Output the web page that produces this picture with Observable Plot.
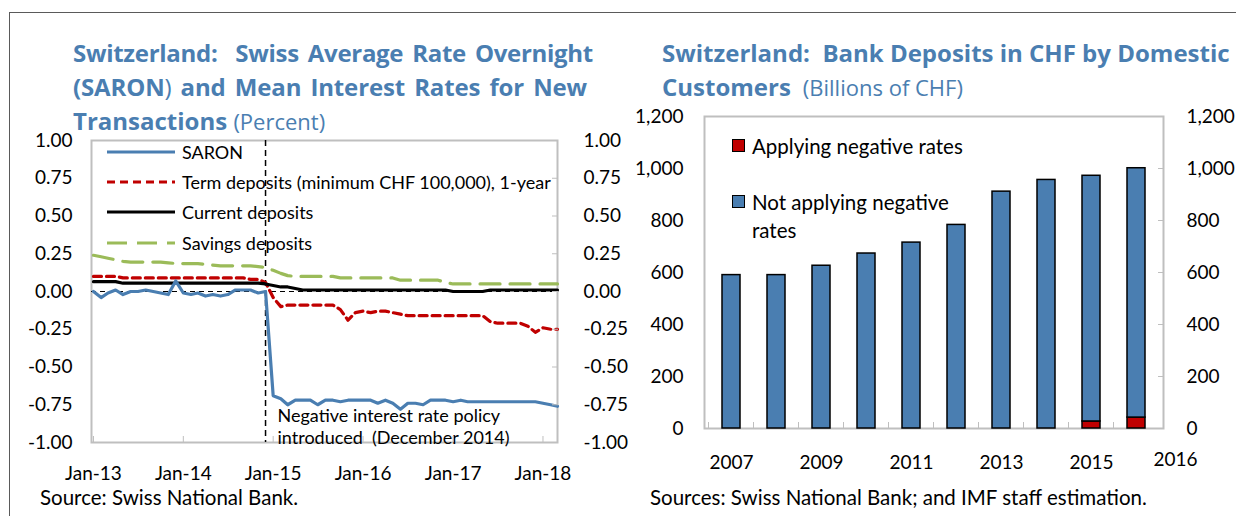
<!DOCTYPE html>
<html><head><meta charset="utf-8">
<script src="https://cdn.jsdelivr.net/npm/d3@7"></script>
<script src="https://cdn.jsdelivr.net/npm/@observablehq/plot@0.6"></script>
<style>
html,body{margin:0;padding:0;background:#fff;}
#root{position:relative;width:1236px;height:516px;overflow:hidden;font-family:Lato,sans-serif;color:#000;}
.abs{position:absolute;}
.border{left:9px;top:12px;width:1400px;height:700px;border-left:1.5px solid #5a5a5a;border-top:1.5px solid #5a5a5a;}
.title{font-family:"Open Sans",sans-serif;font-weight:700;font-size:24px;color:#4a7eb1;line-height:34px;white-space:nowrap;}
.title .ln{display:block;}
.title .ln span.w{display:inline-block;}
.title .n{font-weight:400;}
.title .s{font-weight:400;font-size:22px;}
.chart{top:0;}
.leg{font-size:18px;line-height:24px;white-space:nowrap;}
.rleg{font-size:20.5px;line-height:28px;white-space:nowrap;}
.sw{width:11px;height:11px;border:1px solid #000;}
.src{font-size:20.5px;line-height:14px;white-space:nowrap;}
</style></head>
<body><div id="root">
<div class="abs border"></div>
<div class="abs title" style="left:73px;top:36px;">
  <span class="ln"><span class="w" data-target="520">Switzerland:&nbsp; Swiss Average Rate Overnight</span></span>
  <span class="ln"><span class="w" data-target="514">(SARON<span class="n">)</span> and Mean Interest Rates for New</span></span>
  <span class="ln">Transactions <span class="s">(Percent)</span></span>
</div>
<div class="abs title" style="left:662px;top:36px;">
  <span class="ln">Switzerland:&nbsp; Bank Deposits in CHF by Domestic</span>
  <span class="ln">Customers <span class="s">&nbsp;(Billions of CHF)</span></span>
</div>
<div id="left" class="abs chart" style="left:0px;"></div>
<div id="right" class="abs chart" style="left:620px;"></div>
<div id="legL"></div>
<div id="legR"></div>
<div class="abs src" style="left:40px;top:490px;">Source: Swiss National Bank.</div>
<div class="abs src" style="left:650px;top:490px;">Sources: Swiss National Bank; and IMF staff estimation.</div>
</div>
<script>
// ---------- Left chart data (monthly, Jan-2013 .. Mar-2018) ----------
const monthStart = new Date(Date.UTC(2013, 0, 1));
const monthEnd = new Date(Date.UTC(2018, 3, 1));
const saron = [
  0.00,-0.04,-0.01,0.01,-0.02,0.00,0.00,0.01,0.00,-0.01,-0.02,0.07,
  -0.01,-0.02,-0.01,-0.03,-0.02,-0.03,-0.02,0.01,0.01,0.01,-0.01,0.00,
  -0.69,-0.71,-0.75,-0.72,-0.72,-0.72,-0.75,-0.72,-0.72,-0.73,-0.72,-0.72,
  -0.72,-0.72,-0.74,-0.72,-0.74,-0.78,-0.74,-0.74,-0.75,-0.72,-0.72,-0.72,
  -0.73,-0.72,-0.73,-0.73,-0.73,-0.73,-0.73,-0.73,-0.73,-0.73,-0.73,-0.73,
  -0.74,-0.75,-0.76
];
const termDeposits = [
  0.10,0.10,0.10,0.10,0.09,0.09,0.09,0.09,0.09,0.09,0.09,0.09,
  0.09,0.09,0.09,0.09,0.09,0.09,0.09,0.09,0.09,0.08,0.08,0.06,
  -0.04,-0.10,-0.09,-0.09,-0.09,-0.09,-0.09,-0.09,-0.09,-0.12,-0.19,-0.14,
  -0.13,-0.14,-0.13,-0.13,-0.14,-0.15,-0.16,-0.16,-0.16,-0.16,-0.16,-0.16,
  -0.16,-0.16,-0.16,-0.16,-0.16,-0.20,-0.21,-0.21,-0.21,-0.21,-0.23,-0.27,
  -0.24,-0.25,-0.25
];
const currentDeposits = [
  0.065,0.065,0.065,0.065,0.055,0.055,0.055,0.055,0.055,0.055,0.055,0.055,
  0.055,0.055,0.055,0.055,0.055,0.055,0.055,0.055,0.055,0.055,0.055,0.05,
  0.04,0.03,0.03,0.02,0.01,0.01,0.01,0.01,0.01,0.01,0.01,0.01,
  0.01,0.01,0.01,0.01,0.01,0.01,0.01,0.01,0.01,0.01,0.01,0.01,
  0.00,0.00,0.00,0.00,0.00,0.01,0.01,0.01,0.01,0.01,0.01,0.01,
  0.01,0.01,0.01
];
const savingsDeposits = [
  0.24,0.23,0.22,0.21,0.20,0.195,0.195,0.195,0.195,0.195,0.19,0.185,
  0.185,0.185,0.185,0.18,0.175,0.17,0.17,0.17,0.17,0.17,0.165,0.16,
  0.14,0.12,0.105,0.10,0.10,0.10,0.10,0.10,0.10,0.09,0.09,0.09,
  0.09,0.09,0.09,0.09,0.09,0.075,0.075,0.075,0.075,0.075,0.075,0.06,
  0.05,0.05,0.05,0.05,0.05,0.05,0.05,0.05,0.05,0.05,0.05,0.05,
  0.05,0.05,0.05
];
const seriesNames = ["SARON", "Term deposits (minimum CHF 100,000), 1-year", "Current deposits", "Savings deposits"];
const seriesColors = ["#4a7eb1", "#c00000", "#000000", "#9bbb59"];
const seriesDash = [null, "8,5", null, "20,10"];
const yTicksLeft = [-1, -0.75, -0.5, -0.25, 0, 0.25, 0.5, 0.75, 1];
const xTickYears = [2013, 2014, 2015, 2016, 2017, 2018];
const policyDate = new Date(Date.UTC(2014, 11, 1));
const policyNote = "Negative interest rate policy\nintroduced  (December 2014)";

// ---------- Right chart data ----------
const years = ["2007","2008","2009","2010","2011","2012","2013","2014","2015","2016"];
const notApplying = [590, 590, 626, 673, 715, 783, 911, 956, 945, 959];
const applying = [0, 0, 0, 0, 0, 0, 0, 0, 27, 42];
const depositTypes = ["Applying negative rates", "Not applying negative rates"];
const depositColors = ["#c00000", "#4a7eb1"];
const yTicksRight = [0, 200, 400, 600, 800, 1000, 1200];
const xLabelYears = ["2007","2009","2011","2013","2015"];
const extraYearLabel = ["2016"];

// ---------- Build ----------
const months = d3.utcMonth.range(monthStart, monthEnd);
const allSeries = [saron, termDeposits, currentDeposits, savingsDeposits];
const seriesRows = allSeries.map(vals => vals.map((v, i) => ({date: months[i], value: v})));
const fmt2 = d => d.toFixed(2);
const gray = "#bfbfbf";
const baseStyle = {fontFamily: "Lato, sans-serif", fontSize: "19px", color: "#000", background: "transparent", overflow: "visible"};
const yearDates = xTickYears.map(y => new Date(Date.UTC(y, 0, 1)));

const drawOrder = [3, 1, 2, 0];
const leftChart = Plot.plot({
  width: 620, height: 516,
  marginLeft: 91, marginRight: 63, marginTop: 140, marginBottom: 74,
  style: baseStyle,
  x: {type: "utc", domain: [new Date(Date.UTC(2012, 11, 24)), new Date(Date.UTC(2018, 2, 1))]},
  y: {domain: [-1, 1]},
  marks: [
    Plot.frame({stroke: gray, strokeWidth: 2}),
    Plot.ruleY([0], {stroke: "#000", strokeWidth: 1.2, strokeDasharray: "5,4"}),
    Plot.ruleX([policyDate], {stroke: "#000", strokeWidth: 1.5, strokeDasharray: "6,4"}),
    ...drawOrder.map(k => Plot.lineY(seriesRows[k], {
      x: "date", y: "value", stroke: seriesColors[k], strokeWidth: 3.2,
      strokeDasharray: seriesDash[k] || undefined, curve: "linear"
    })),
    Plot.text([policyNote], {x: () => policyDate, frameAnchor: "bottom", textAnchor: "start", lineAnchor: "bottom", dx: 12, dy: 1, fontSize: 18, lineHeight: 1.2, fill: "#000"}),
    Plot.axisY({anchor: "left", ticks: yTicksLeft, tickSize: 0, tickPadding: 19, tickFormat: fmt2, label: null}),
    Plot.axisY({anchor: "right", ticks: yTicksLeft, tickSize: 0, tickPadding: 26, tickFormat: fmt2, label: null}),
    Plot.axisY({anchor: "right", ticks: yTicksLeft, tickSize: 6, dx: -6, stroke: gray, tickFormat: () => "", label: null}),
    Plot.axisX({anchor: "bottom", ticks: yearDates, tickSize: 0, tickPadding: 24, tickFormat: d3.utcFormat("%b-%y"), fontSize: 19, label: null}),
    Plot.axisX({anchor: "bottom", ticks: yearDates, tickSize: 6, dy: -6, stroke: gray, tickFormat: () => "", label: null})
  ]
});
document.getElementById("left").appendChild(leftChart);

const barRows = [];
years.forEach((y, i) => {
  barRows.push({year: y, type: depositTypes[0], value: applying[i]});
  barRows.push({year: y, type: depositTypes[1], value: notApplying[i]});
});
const rightChart = Plot.plot({
  width: 616, height: 516,
  marginLeft: 84, marginRight: 73, marginTop: 116, marginBottom: 88,
  style: baseStyle,
  x: {type: "band", domain: years, paddingInner: 0.6, paddingOuter: 0.3},
  y: {domain: [0, 1200]},
  color: {domain: depositTypes, range: depositColors},
  marks: [
    Plot.frame({stroke: gray, strokeWidth: 2}),
    Plot.barY(barRows, Plot.stackY({x: "year", y: "value", fill: "type", stroke: "#000", strokeWidth: 1.5, filter: d => d.value > 0})),
    Plot.axisY({anchor: "left", ticks: yTicksRight, tickSize: 0, tickPadding: 21, tickFormat: d3.format(","), label: null}),
    Plot.axisY({anchor: "right", ticks: yTicksRight, tickSize: 0, tickPadding: 23, tickFormat: d3.format(","), label: null}),
    Plot.axisY({anchor: "right", ticks: yTicksRight, tickSize: 6, dx: -6, stroke: gray, tickFormat: () => "", label: null}),
    Plot.axisX({anchor: "bottom", ticks: xLabelYears, tickSize: 0, tickPadding: 27, label: null}),
    Plot.axisX({anchor: "bottom", ticks: years, tickSize: 6, dy: -6, dx: -23, stroke: gray, tickFormat: () => "", label: null}),
    Plot.text(extraYearLabel, {x: d => d, frameAnchor: "bottom", dx: 39, dy: 37, fontSize: 19, fill: "#000"})
  ]
});
document.getElementById("right").appendChild(rightChart);

// ---------- Legends ----------
const legL = document.getElementById("legL");
const legendCenters = [152, 182, 212, 243];
seriesNames.forEach((name, k) => {
  const yc = legendCenters[k];
  const svg = d3.create("svg").attr("width", 70).attr("height", 10)
    .style("position", "absolute").style("left", "106px").style("top", (yc - 5) + "px");
  svg.append("line").attr("x1", 1).attr("x2", 69).attr("y1", 5).attr("y2", 5)
    .attr("stroke", seriesColors[k]).attr("stroke-width", 3.2)
    .attr("stroke-dasharray", seriesDash[k]);
  legL.appendChild(svg.node());
  const t = document.createElement("div");
  t.className = "abs leg";
  t.style.left = "182px"; t.style.top = (yc - 12) + "px";
  t.textContent = name;
  legL.appendChild(t);
});
const legR = document.getElementById("legR");
const rLegendTops = [139, 195];
depositTypes.forEach((name, k) => {
  const sw = document.createElement("div");
  sw.className = "abs sw";
  sw.style.left = "732px"; sw.style.top = rLegendTops[k] + "px";
  sw.style.background = depositColors[k];
  legR.appendChild(sw);
  const t = document.createElement("div");
  t.className = "abs rleg";
  t.style.left = "752px"; t.style.top = (rLegendTops[k] - 7) + "px";
  t.innerHTML = k === 1 ? "Not applying negative<br>rates" : name;
  legR.appendChild(t);
});

// ---------- Justify title lines ----------
function justify() {
  document.querySelectorAll(".title span.w").forEach(el => {
    el.style.wordSpacing = "0px";
    el.style.letterSpacing = "0px";
    const target = +el.dataset.target;
    const txt = el.textContent;
    const n = (txt.match(/[ \u00a0]/g) || []).length;
    let w = el.getBoundingClientRect().width;
    const minGap = 3;
    if ((target - w) / n < minGap) {
      const chars = txt.length;
      el.style.letterSpacing = ((target - w - minGap * n) / chars) + "px";
      w = el.getBoundingClientRect().width;
    }
    el.style.wordSpacing = ((target - w) / n) + "px";
  });
}
justify();
if (document.fonts && document.fonts.ready) document.fonts.ready.then(justify);
</script>
</body></html>
